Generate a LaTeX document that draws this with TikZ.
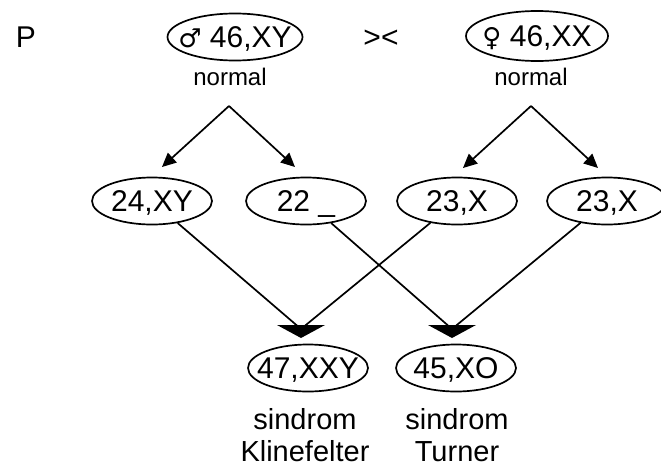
\documentclass[tikz,border=0pt]{standalone}
\usepackage{fontspec}
\setmainfont{Liberation Sans}
\newfontfamily\sexfont{DejaVu Sans}
\usetikzlibrary{shapes.geometric, arrows.meta, calc}

\begin{document}
\begin{tikzpicture}[
    x=1pt, y=-1pt, line width=1.7pt,
    geno/.style={draw, ellipse, minimum width=120pt, minimum height=47pt, inner xsep=-10pt, inner ysep=0pt, text height=21.5pt, text depth=0pt, font=\fontsize{30}{36}\selectfont},
    note/.style={anchor=base, font=\fontsize{24}{28}\selectfont},
    syndr/.style={align=center, inner sep=0pt, font=\fontsize{29}{32}\selectfont},
    arr/.style={-{Triangle[length=14pt, width=13pt]}}
]
    \useasboundingbox (0,0) rectangle (661,466);

    % Parents
    \node[anchor=base, font=\fontsize{30}{36}\selectfont] (p) at (26,47) {P};
    \node[geno, minimum width=135pt] (dad) at (235,37) {{\sexfont\fontsize{26}{30}\selectfont ♂} 46,XY};
    \node[anchor=base, font=\fontsize{30}{36}\selectfont] (cross) at (381,47) {><};
    \node[geno, minimum width=142pt, minimum height=50pt] (mom) at (537,36) {{\sexfont\fontsize{26}{30}\selectfont ♀} 46,XX};
    \node[note] (dadn) at (230,85) {normal};
    \node[note] (momn) at (531,85) {normal};

    % Meiosis
    \coordinate (dadv) at (229,106);
    \coordinate (momv) at (531,106);
    \coordinate (t1) at (162,167);
    \coordinate (t2) at (295,167);
    \coordinate (t3) at (463,168);
    \coordinate (t4) at (598,168);
    \draw[arr] (dadv) -- (t1);
    \draw[arr] (dadv) -- (t2);
    \draw[arr] (momv) -- (t3);
    \draw[arr] (momv) -- (t4);

    % Gametes
    \node[geno] (g1) at (152,201) {24,XY};
    \node[geno] (g2) at (306,201) {22 \_};
    \node[geno] (g3) at (457,201) {23,X};
    \node[geno] (g4) at (607,201) {23,X};

    % Fertilisation
    \coordinate (kxxy) at (301,329);
    \coordinate (kxo) at (452,329);
    \draw (g1) -- (kxxy);
    \draw (g3) -- (kxxy);
    \draw (g2) -- (kxo);
    \draw (g4) -- (kxo);
    \fill ($(kxxy)+(-24,-4)$) -- ($(kxxy)+(24,-4)$) -- ($(kxxy)+(0,9)$) -- cycle;
    \fill ($(kxo)+(-24,-4)$) -- ($(kxo)+(24,-4)$) -- ($(kxo)+(0,9)$) -- cycle;

    % Offspring
    \node[geno] (xxy) at (308,368) {47,XXY};
    \node[geno] (xo) at (456,368) {45,XO};
    \node[syndr] (kl) at (305,435) {sindrom\\Klinefelter};
    \node[syndr] (tu) at (457,435) {sindrom\\Turner};

\end{tikzpicture}
\end{document}
